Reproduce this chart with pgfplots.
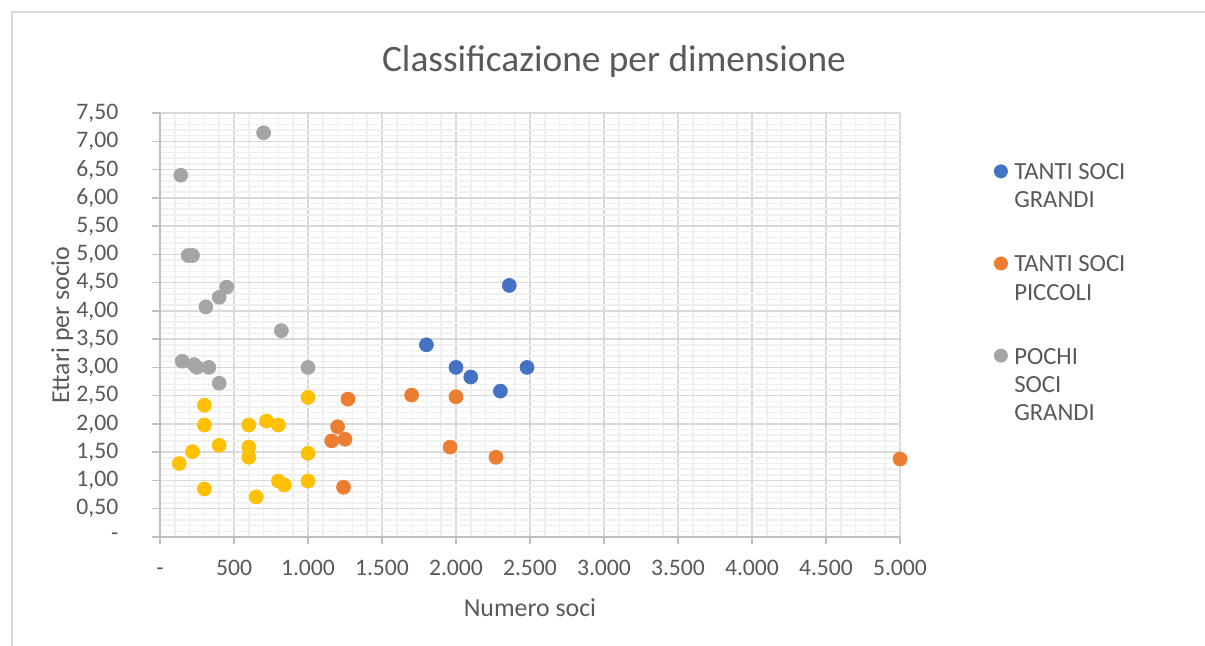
\documentclass[border=0pt]{standalone}
\usepackage{pgfplots}
\pgfplotsset{compat=1.18}
\usepackage{fontspec}
\setmainfont{Carlito}

\definecolor{serblue}{HTML}{4472C4}
\definecolor{serorange}{HTML}{ED7D31}
\definecolor{sergray}{HTML}{A5A5A5}
\definecolor{seryellow}{HTML}{FFC000}
\definecolor{txtgray}{HTML}{595959}
\definecolor{majgrid}{HTML}{D9D9D9}
\definecolor{mingrid}{HTML}{F0F0F0}
\definecolor{axgray}{HTML}{BFBFBF}

\begin{document}
\begin{tikzpicture}
% chart frame
\path[use as bounding box] (0,0) rectangle (723pt,387.6pt);
\draw[majgrid, line width=0.9pt] (7.2pt,0) -- (7.2pt,380.4pt) -- (723pt,380.4pt);

\begin{axis}[
  at={(96pt,65.4pt)}, anchor=origin,
  scale only axis,
  width=444pt, height=254.4pt,
  xmin=0, xmax=5000, ymin=0, ymax=7.5,
  axis x line*=bottom, axis y line*=left,
  axis line style={draw=axgray, line width=0.9pt, -},
  xtick={0,500,...,5000},
  xticklabels={-,500,1.000,1.500,2.000,2.500,3.000,3.500,4.000,4.500,5.000},
  ytick={0,0.5,...,7.5},
  yticklabels={-,{0,50},{1,00},{1,50},{2,00},{2,50},{3,00},{3,50},{4,00},{4,50},{5,00},{5,50},{6,00},{6,50},{7,00},{7,50}},
  minor x tick num=4, minor y tick num=4,
  grid=both,
  major grid style={draw=majgrid, line width=0.9pt},
  minor grid style={draw=mingrid, line width=0.9pt},
  tick align=outside,
  major tick length=4.5pt, minor tick length=0pt,
  tick style={draw=axgray, line width=0.9pt},
  ticklabel style={font=\fontsize{14.2}{16}\selectfont, text=txtgray},
  /pgf/number format/assume math mode=true,
  xticklabel style={yshift=-5.5pt, text height=9.5pt, text depth=2pt},
  yticklabel style={xshift=-17pt},
  title={Classificazione per dimensione},
  title style={at={(axis description cs:0.6135,1.098)}, anchor=center,
    font=\fontsize{22.4}{25}\selectfont, text=txtgray},
  xlabel={Numero soci},
  xlabel style={at={(axis description cs:0.5,-0.167)}, anchor=center,
    font=\fontsize{15.5}{18}\selectfont, text=txtgray},
  ylabel={Ettari per socio},
  ylabel style={at={(axis description cs:-0.132,0.5)}, anchor=center, rotate=0,
    font=\fontsize{15.5}{18}\selectfont, text=txtgray},
  legend style={at={(axis description cs:1.1265,0.89)}, anchor=north west,
    draw=none, fill=none, inner sep=0pt,
    font=\fontsize{14.8}{17}\selectfont, text=txtgray,
    cells={anchor=north west, align=left},
    row sep=23pt},
  legend image code/.code={%
    \path (0,-0.68em) -- (0.6em+3pt,-0.68em);
    \fill[#1] (0.3em,-0.68em) circle (4.2pt);},
  clip=false,
]
% large memberships, large farms
\addplot[only marks, mark=*, mark size=4.2pt, color=serblue, draw=none] coordinates {
  (1800,3.40) (2000,3.00) (2100,2.83) (2360,4.45) (2300,2.58) (2480,3.00)
};
\addlegendentry{TANTI SOCI\\GRANDI}
% large memberships, small farms
\addplot[only marks, mark=*, mark size=4.2pt, color=serorange, draw=none] coordinates {
  (1700,2.51) (2000,2.48) (1960,1.59) (2270,1.41) (5000,1.38)
  (1270,2.44) (1200,1.95) (1160,1.70) (1250,1.73) (1240,0.88)
};
\addlegendentry{TANTI SOCI\\PICCOLI}
% few members, large farms
\addplot[only marks, mark=*, mark size=4.2pt, color=sergray, draw=none] coordinates {
  (700,7.15) (140,6.40) (190,4.98) (220,4.98) (450,4.42) (400,4.24)
  (310,4.07) (820,3.65) (1000,3.00) (150,3.11) (230,3.05) (250,3.00)
  (330,3.00) (400,2.72)
};
\addlegendentry{POCHI\\SOCI\\GRANDI}
% remaining cooperatives
\addplot[only marks, mark=*, mark size=4.2pt, color=seryellow, draw=none, forget plot] coordinates {
  (130,1.30) (220,1.51) (300,2.33) (300,1.98) (300,0.85) (400,1.62)
  (600,1.98) (600,1.59) (600,1.41) (650,0.71) (720,2.05) (800,1.98)
  (800,0.99) (840,0.92) (1000,2.47) (1000,1.48) (1000,0.99)
};
\end{axis}
\end{tikzpicture}
\end{document}
